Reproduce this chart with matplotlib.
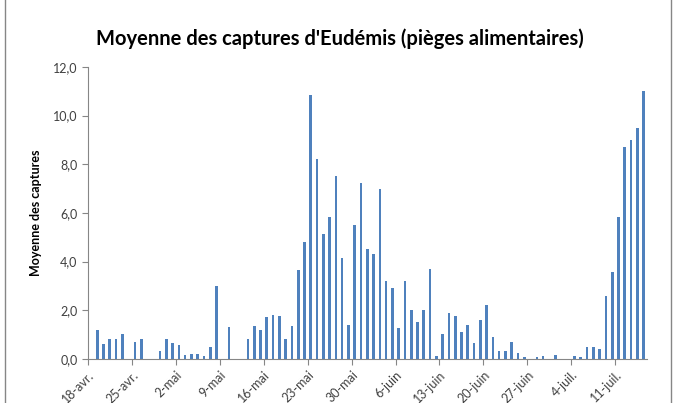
import matplotlib
matplotlib.use('Agg')
import matplotlib.pyplot as plt
import numpy as np

plt.rcParams['font.family'] = ['Lato', 'DejaVu Sans']

# one value per day, from 18-avr. to 15-juil. (0 = no trap reading)
captures = [0, 1.2, 0.6, 0.8, 0.8, 1.0, 0, 0.7, 0.8, 0, 0, 0.32, 0.8, 0.65, 0.55,
            0.15, 0.2, 0.2, 0.12, 0.5, 3.0, 0, 1.3, 0, 0, 0.8, 1.35, 1.2, 1.7, 1.8,
            1.75, 0.8, 1.35, 3.65, 4.8, 10.85, 8.2, 5.15, 5.85, 7.5, 4.15, 1.4, 5.5,
            7.25, 4.5, 4.3, 7.0, 3.2, 2.9, 1.25, 3.2, 2.0, 1.5, 2.0, 3.7, 0.12, 1.0,
            1.9, 1.75, 1.1, 1.4, 0.67, 1.6, 2.2, 0.9, 0.33, 0.33, 0.7, 0.22, 0.07,
            0, 0.07, 0.12, 0, 0.14, 0, 0, 0.1, 0.08, 0.48, 0.48, 0.41, 2.6, 3.57,
            5.85, 8.7, 9.0, 9.5, 11.0]
tick_labels = ['18-avr.', '25-avr.', '2-mai', '9-mai', '16-mai', '23-mai', '30-mai',
               '6-juin', '13-juin', '20-juin', '27-juin', '4-juil.', '11-juil.']

days = np.arange(len(captures))
gray = '#868686'
text_col = '#404040'

fig = plt.figure(figsize=(6.76, 4.03), dpi=100)
ax = fig.add_axes([0.1299, 0.1097, 0.8268, 0.724])

ax.bar(days, captures, width=0.42, color='#4F81BD', linewidth=0)

ax.set_xlim(-0.5, len(captures) - 0.5)
ax.set_ylim(0, 12)
ax.set_yticks(np.arange(0, 12.1, 2))
ax.set_yticklabels([f'{v:.1f}'.replace('.', ',') for v in np.arange(0, 12.1, 2)])
ax.set_xticks(np.arange(0, len(captures), 7) - 0.5)
ax.set_xticklabels(tick_labels, rotation=45, ha='right', rotation_mode='anchor')

for s in ['top', 'right']:
    ax.spines[s].set_visible(False)
for s in ['left', 'bottom']:
    ax.spines[s].set_color(gray)
ax.tick_params(axis='both', colors=gray, length=4, width=0.8, labelcolor=text_col,
               labelsize=9)
ax.tick_params(axis='x', pad=3)

ax.set_ylabel('Moyenne des captures', fontsize=9, fontweight='bold', color='black',
              labelpad=8)
fig.text(0.503, 0.905, "Moyenne des captures d'Eudémis (pièges alimentaires)",
         ha='center', va='center', fontsize=14.5, fontweight='bold')

# outer chart frame
fig.add_artist(plt.Line2D([5 / 676, 5 / 676], [0, 1], color=gray, lw=1))
fig.add_artist(plt.Line2D([671 / 676, 671 / 676], [0, 1], color=gray, lw=1))

fig.savefig('out.png', dpi=100)
